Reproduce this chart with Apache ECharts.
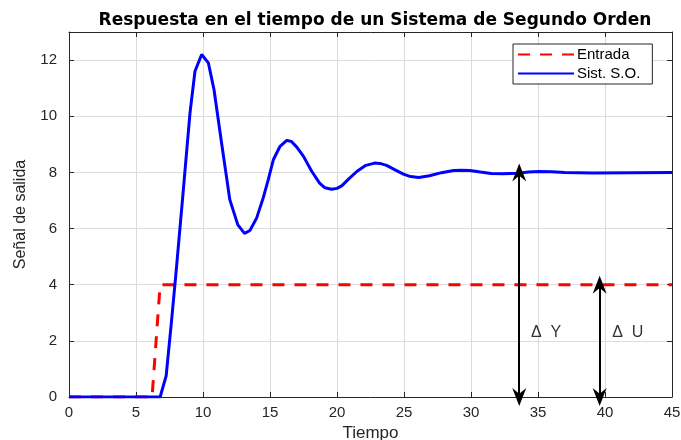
<!DOCTYPE html>
<html>
<head>
<meta charset="utf-8">
<script src="https://cdn.jsdelivr.net/npm/echarts@6/dist/echarts.min.js"></script>
<style>
  html, body { margin: 0; padding: 0; background: #fff; }
  #chart { width: 681px; height: 440px; }
</style>
</head>
<body>
<div id="chart"></div>
<script>
// entrada escalon (rampa corta en t~6.5)
var entradaT = [0, 6.2, 6.8, 45];
var entradaY = [0, 0, 4, 4];

// respuesta del sistema de segundo orden
var salidaT = [0, 6.8, 7.25, 7.65, 8.0, 8.5, 9.03, 9.4, 9.9, 10.4, 10.82, 11.4, 12.0, 12.6, 13.1, 13.5,
  14.0, 14.5, 14.87, 15.25, 15.75, 16.25, 16.6, 17.0, 17.5, 18.1, 18.7, 19.1, 19.6, 20.0, 20.35,
  20.9, 21.5, 22.1, 22.8, 23.2, 23.7, 24.3, 24.95, 25.5, 26.1, 26.9, 27.8, 28.7, 29.3, 29.9,
  30.7, 31.5, 32.4, 33.5, 34.3, 35.1, 36.0, 37.0, 39.1, 45];
var salidaY = [0, 0, 0.75, 2.7, 4.5, 7.2, 10.12, 11.6, 12.2, 11.9, 10.95, 9.0, 7.03, 6.13, 5.83, 5.93,
  6.37, 7.1, 7.74, 8.45, 8.93, 9.14, 9.1, 8.9, 8.57, 8.05, 7.62, 7.45, 7.4, 7.43, 7.52,
  7.78, 8.04, 8.24, 8.33, 8.32, 8.25, 8.1, 7.94, 7.85, 7.82, 7.88, 7.99, 8.07, 8.08, 8.07,
  8.01, 7.96, 7.95, 7.97, 8.01, 8.03, 8.02, 8.0, 7.98, 8.0];

// flechas delta: [t, y inicio, y fin]
var flechaY = [33.6, 0, 8];
var flechaU = [39.6, 0, 4];
var etiquetas = [['\u0394  Y', 35.6, 2.3], ['\u0394  U', 41.7, 2.3]];

function pares(xs, ys) {
  var out = [];
  for (var i = 0; i < xs.length; i++) out.push([xs[i], ys[i]]);
  return out;
}

var flecha = 'path://M5,0 L10,11 L5,7.5 L0,11 Z';
var ejeColor = '#262626';
var fuente = 'Liberation Sans, Arial, sans-serif';

var myChart = echarts.init(document.getElementById('chart'));
var option = {
  animation: false,
  backgroundColor: '#fff',
  title: {
    text: 'Respuesta en el tiempo de un Sistema de Segundo Orden',
    left: 370, top: 7, textAlign: 'center',
    textStyle: { fontFamily: 'DejaVu Sans', fontSize: 17, fontWeight: 'bold', color: '#000' }
  },
  grid: { left: 69, right: 9, top: 32, bottom: 43, containLabel: false, outerBoundsMode: 'none' },
  legend: {
    left: 513, top: 44,
    orient: 'vertical',
    itemWidth: 56, itemHeight: 3, itemGap: 4,
    padding: [3, 12, 3, 4],
    borderColor: '#262626', borderWidth: 1, backgroundColor: '#fff',
    itemStyle: { opacity: 0 },
    textStyle: { fontFamily: fuente, fontSize: 15, color: '#000', padding: [0, 0, 0, -2] },
    data: ['Entrada', 'Sist. S.O.']
  },
  xAxis: [{
    type: 'value', min: 0, max: 45, interval: 5,
    name: 'Tiempo', nameLocation: 'middle', nameGap: 27,
    nameTextStyle: { fontFamily: fuente, fontSize: 17, color: ejeColor },
    axisLine: { onZero: false, lineStyle: { color: ejeColor, width: 1 } },
    axisTick: { inside: true, length: 5, lineStyle: { color: ejeColor } },
    axisLabel: { fontFamily: fuente, fontSize: 15, color: ejeColor, margin: 8 },
    splitLine: { show: true, lineStyle: { color: '#dcdcdc', width: 1 } }
  }, {
    type: 'value', min: 0, max: 45, interval: 5, position: 'top',
    axisLine: { onZero: false, lineStyle: { color: ejeColor, width: 1 } },
    axisTick: { inside: true, length: 5, lineStyle: { color: ejeColor } },
    axisLabel: { show: false }, splitLine: { show: false }
  }],
  yAxis: [{
    type: 'value', min: 0, max: 13, interval: 2,
    name: 'Se\u00f1al de salida', nameLocation: 'middle', nameGap: 40,
    nameTextStyle: { fontFamily: fuente, fontSize: 16, color: ejeColor },
    axisLine: { show: true, onZero: false, lineStyle: { color: ejeColor, width: 1 } },
    axisTick: { show: true, inside: true, length: 5, lineStyle: { color: ejeColor } },
    axisLabel: { fontFamily: fuente, fontSize: 15, color: ejeColor, margin: 12,
      formatter: function (v) { return v <= 12 ? v : ''; } },
    splitLine: { show: true, lineStyle: { color: '#dcdcdc', width: 1 } }
  }, {
    type: 'value', min: 0, max: 13, interval: 2, position: 'right',
    axisLine: { show: true, onZero: false, lineStyle: { color: ejeColor, width: 1 } },
    axisTick: { show: true, inside: true, length: 5, lineStyle: { color: ejeColor } },
    axisLabel: { show: false }, splitLine: { show: false }
  }],
  series: [{
    name: 'Entrada',
    type: 'line',
    data: pares(entradaT, entradaY),
    showSymbol: false, symbol: 'none',
    lineStyle: { color: '#ff0000', width: 3, type: [12, 10] },
    itemStyle: { color: '#ff0000' },
    z: 3
  }, {
    name: 'Sist. S.O.',
    type: 'line',
    data: pares(salidaT, salidaY),
    showSymbol: false, symbol: 'none',
    lineStyle: { color: '#0000ff', width: 3 },
    itemStyle: { color: '#0000ff' },
    z: 4,
    markLine: {
      silent: true,
      symbol: [flecha, flecha],
      symbolSize: [14, 18],
      symbolOffset: 0,
      label: { show: false },
      lineStyle: { color: '#000', width: 2, type: 'solid' },
      data: [
        [{ coord: [flechaY[0], flechaY[1]] }, { coord: [flechaY[0], flechaY[2]] }],
        [{ coord: [flechaU[0], flechaU[1]] }, { coord: [flechaU[0], flechaU[2]] }]
      ]
    }
  }, {
    type: 'scatter',
    data: etiquetas.map(function (e) { return { value: [e[1], e[2]], name: e[0] }; }),
    symbolSize: 0,
    silent: true,
    label: {
      show: true, position: 'inside',
      formatter: function (p) { return p.name; },
      fontFamily: fuente, fontSize: 16, color: '#000'
    },
    z: 5
  }]
};
myChart.setOption(option);
</script>
</body>
</html>
